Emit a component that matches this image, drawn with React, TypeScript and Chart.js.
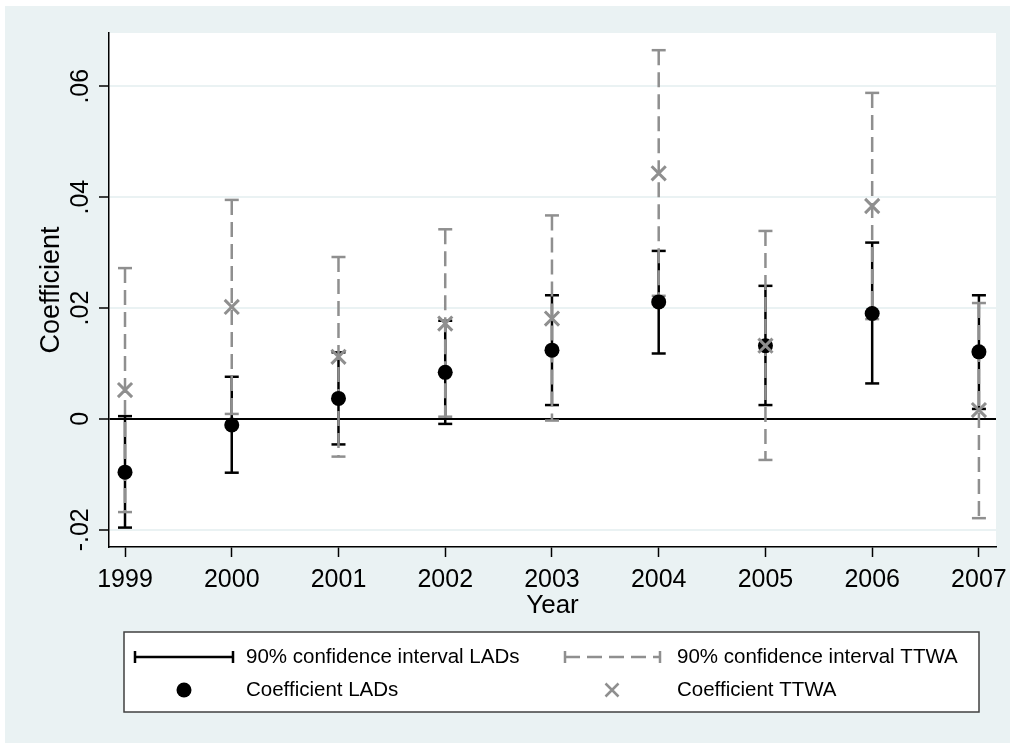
import React, { useEffect, useRef } from "react";
import { Chart, registerables } from "chart.js";

Chart.register(...registerables);

// ---------- data ----------
const years = [1999, 2000, 2001, 2002, 2003, 2004, 2005, 2006, 2007];
const yearLabels = ["1999", "2000", "2001", "2002", "2003", "2004", "2005", "2006", "2007"];

const ladCoef = [-0.0096, -0.0011, 0.0037, 0.0084, 0.0124, 0.0211, 0.0132, 0.019, 0.0121];
const ladLow = [-0.0196, -0.0097, -0.0046, -0.0009, 0.0025, 0.0118, 0.0025, 0.0064, 0.0018];
const ladHigh = [0.0005, 0.0076, 0.012, 0.0177, 0.0223, 0.0303, 0.024, 0.0318, 0.0223];

const ttwaCoef = [0.0052, 0.0202, 0.0112, 0.0172, 0.0181, 0.0443, 0.0132, 0.0384, 0.0016];
const ttwaLow = [-0.0168, 0.0009, -0.0068, 0.0004, -0.0003, 0.0222, -0.0074, 0.018, -0.0179];
const ttwaHigh = [0.0272, 0.0395, 0.0292, 0.0342, 0.0367, 0.0665, 0.0339, 0.0588, 0.0209];

const yTickValues = [-0.02, 0, 0.02, 0.04, 0.06];
const yTickLabels = ["-.02", "0", ".02", ".04", ".06"];

const xTitle = "Year";
const yTitle = "Coefficient";
const legendLabels = [
  "90% confidence interval LADs",
  "90% confidence interval TTWA",
  "Coefficient LADs",
  "Coefficient TTWA",
];

// ---------- style ----------
const BG = "#EAF2F3";
const GRAY = "#8f8f8f";
const FONT = '"Liberation Sans", Arial, sans-serif';
const W = 1010;
const H = 743;

function ciPoints(low: number[], high: number[]) {
  const pts: { x: number; y: number | null }[] = [];
  years.forEach((yr, i) => {
    pts.push({ x: yr, y: high[i] });
    pts.push({ x: yr, y: low[i] });
    pts.push({ x: yr, y: null });
  });
  return pts;
}

const decorPlugin = {
  id: "decor",
  beforeDraw(chart: any) {
    const { ctx, width, height, chartArea } = chart;
    ctx.save();
    ctx.fillStyle = "#ffffff";
    ctx.fillRect(0, 0, width, height);
    ctx.fillStyle = BG;
    ctx.fillRect(5, 6, width, height);
    ctx.fillStyle = "#ffffff";
    ctx.fillRect(chartArea.left, chartArea.top, chartArea.right - chartArea.left, chartArea.bottom - chartArea.top);
    ctx.restore();
  },
  afterDraw(chart: any) {
    const { ctx, chartArea } = chart;
    const yScale = chart.scales.y;
    ctx.save();
    ctx.fillStyle = "#000";
    // y tick labels (rotated)
    ctx.font = `25px ${FONT}`;
    ctx.textAlign = "center";
    ctx.textBaseline = "alphabetic";
    yTickValues.forEach((v, i) => {
      const py = yScale.getPixelForValue(v);
      ctx.save();
      ctx.translate(88, py);
      ctx.rotate(-Math.PI / 2);
      ctx.fillText(yTickLabels[i], 0, 0);
      ctx.restore();
    });
    // y title
    ctx.save();
    ctx.font = `27px ${FONT}`;
    ctx.translate(59, (chartArea.top + chartArea.bottom) / 2);
    ctx.rotate(-Math.PI / 2);
    ctx.fillText(yTitle, 0, 0);
    ctx.restore();
    // x title
    ctx.font = `26px ${FONT}`;
    ctx.textBaseline = "middle";
    ctx.fillText(xTitle, (chartArea.left + chartArea.right) / 2, 606);

    // legend
    const bx = 124, by = 632, bw = 855, bh = 80;
    ctx.fillStyle = "#fff";
    ctx.fillRect(bx, by, bw, bh);
    ctx.strokeStyle = "#404040";
    ctx.lineWidth = 1.5;
    ctx.strokeRect(bx, by, bw, bh);

    const r1 = 657, r2 = 690;
    // LAD CI sample
    ctx.strokeStyle = "#000";
    ctx.lineWidth = 2.5;
    ctx.beginPath();
    ctx.moveTo(135, r1);
    ctx.lineTo(233, r1);
    ctx.moveTo(135, r1 - 6);
    ctx.lineTo(135, r1 + 6);
    ctx.moveTo(233, r1 - 6);
    ctx.lineTo(233, r1 + 6);
    ctx.stroke();
    // TTWA CI sample
    ctx.strokeStyle = GRAY;
    ctx.beginPath();
    ctx.moveTo(565, r1 - 6);
    ctx.lineTo(565, r1 + 6);
    ctx.moveTo(660, r1 - 6);
    ctx.lineTo(660, r1 + 6);
    ctx.stroke();
    ctx.save();
    ctx.setLineDash([15, 7]);
    ctx.beginPath();
    ctx.moveTo(565, r1);
    ctx.lineTo(660, r1);
    ctx.stroke();
    ctx.restore();
    // dot
    ctx.fillStyle = "#000";
    ctx.beginPath();
    ctx.arc(184, r2, 7.5, 0, Math.PI * 2);
    ctx.fill();
    // X
    ctx.strokeStyle = GRAY;
    ctx.lineWidth = 2.5;
    ctx.beginPath();
    ctx.moveTo(612 - 6.5, r2 - 6.5);
    ctx.lineTo(612 + 6.5, r2 + 6.5);
    ctx.moveTo(612 + 6.5, r2 - 6.5);
    ctx.lineTo(612 - 6.5, r2 + 6.5);
    ctx.stroke();
    // texts
    ctx.fillStyle = "#000";
    ctx.font = `20.5px ${FONT}`;
    ctx.textAlign = "left";
    ctx.textBaseline = "middle";
    ctx.fillText(legendLabels[0], 246, r1);
    ctx.fillText(legendLabels[1], 677, r1);
    ctx.fillText(legendLabels[2], 246, r2);
    ctx.fillText(legendLabels[3], 677, r2);
    ctx.restore();
  },
};

export default function App() {
  const ref = useRef<HTMLCanvasElement | null>(null);

  useEffect(() => {
    if (!ref.current) return;
    document.body.style.margin = "0";
    document.body.style.background = BG;
    const chart = new Chart(ref.current, {
      type: "line",
      data: {
        datasets: [
          {
            label: legendLabels[3],
            data: years.map((x, i) => ({ x, y: ttwaCoef[i] })),
            showLine: false,
            pointStyle: "crossRot",
            pointRadius: 10,
            pointBorderColor: GRAY,
            pointBackgroundColor: GRAY,
            pointBorderWidth: 3,
            order: 1,
          } as any,
          {
            label: legendLabels[2],
            data: years.map((x, i) => ({ x, y: ladCoef[i] })),
            showLine: false,
            pointStyle: "circle",
            pointRadius: 7.5,
            pointBorderWidth: 0,
            pointBackgroundColor: "#000",
            pointBorderColor: "#000",
            order: 2,
          } as any,
          {
            label: legendLabels[1],
            data: ciPoints(ttwaLow, ttwaHigh),
            borderColor: GRAY,
            borderWidth: 2.5,
            borderDash: [15, 7],
            spanGaps: false,
            pointStyle: "line",
            pointRadius: 7,
            pointBorderWidth: 2.5,
            pointBorderColor: GRAY,
            order: 3,
          } as any,
          {
            label: legendLabels[0],
            data: ciPoints(ladLow, ladHigh),
            borderColor: "#000",
            borderWidth: 2.5,
            spanGaps: false,
            pointStyle: "line",
            pointRadius: 7,
            pointBorderWidth: 2.5,
            pointBorderColor: "#000",
            order: 4,
          } as any,
        ],
      },
      options: {
        animation: false,
        responsive: false,
        devicePixelRatio: 1,
        layout: { padding: { left: 0, top: 33, right: 14, bottom: 136 } },
        plugins: { legend: { display: false }, tooltip: { enabled: false } },
        events: [],
        scales: {
          x: {
            type: "linear",
            min: 1998.85,
            max: 2007.16,
            afterBuildTicks: (scale: any) => {
              scale.ticks = years.map((v) => ({ value: v }));
            },
            afterFit: (scale: any) => {
              scale.height = 60;
              scale.paddingLeft = 0;
              scale.paddingRight = 0;
            },
            ticks: {
              autoSkip: false,
              maxRotation: 0,
              minRotation: 0,
              padding: 8,
              color: "#000",
              font: { family: FONT, size: 25 },
              callback: (value: any) => {
                const i = years.indexOf(Number(value));
                return i >= 0 ? yearLabels[i] : "";
              },
            },
            grid: {
              drawOnChartArea: false,
              drawTicks: true,
              tickLength: 10,
              tickColor: "#000",
              tickWidth: 1.5,
            },
            border: { display: true, color: "#000", width: 1.5 },
          },
          y: {
            type: "linear",
            min: -0.0231,
            max: 0.0696,
            afterBuildTicks: (scale: any) => {
              scale.ticks = yTickValues.map((v) => ({ value: v }));
            },
            afterFit: (scale: any) => {
              scale.width = 109;
              scale.paddingTop = 0;
              scale.paddingBottom = 0;
            },
            ticks: { display: false },
            grid: {
              drawOnChartArea: true,
              drawTicks: true,
              tickLength: 10,
              tickColor: "#000",
              tickWidth: 1.5,
              color: (c: any) => (c.tick && c.tick.value === 0 ? "#000" : BG),
              lineWidth: 2,
            },
            border: { display: true, color: "#000", width: 1.5 },
          },
        },
      },
      plugins: [decorPlugin],
    });
    return () => chart.destroy();
  }, []);

  return (
    <div style={{ position: "absolute", left: 0, top: 0, width: W, height: H }}>
      <canvas ref={ref} width={W} height={H} style={{ width: W, height: H, display: "block" }} />
    </div>
  );
}
